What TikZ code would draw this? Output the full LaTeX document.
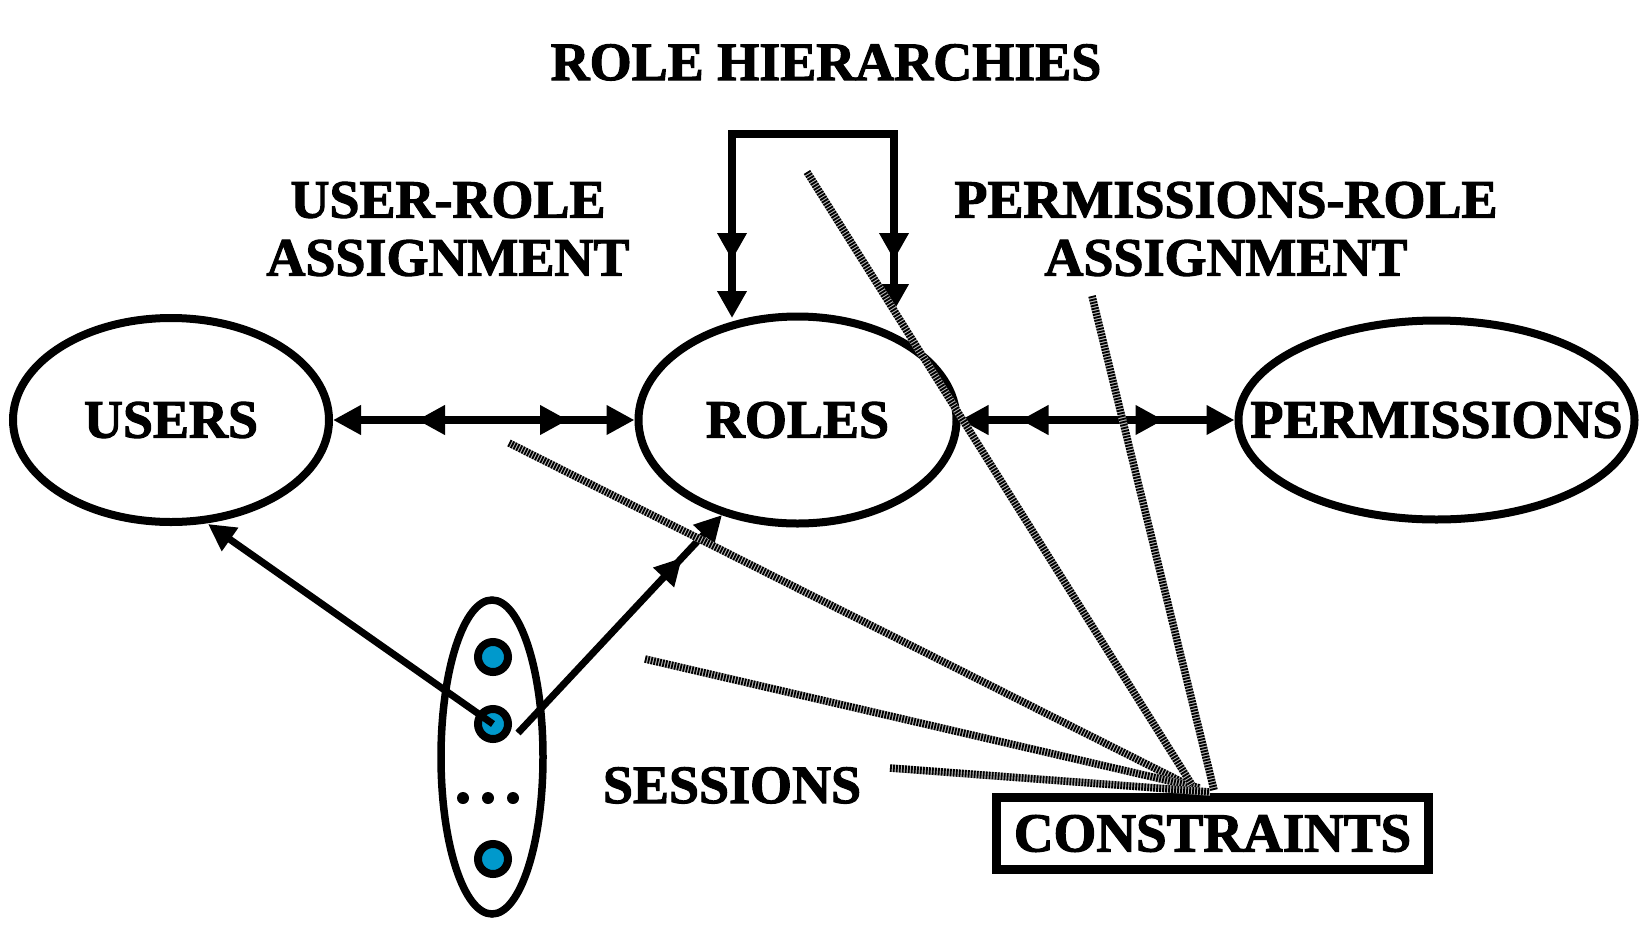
\documentclass[tikz,border=0pt]{standalone}
\usepackage{fontspec}
\setmainfont[BoldFeatures={FakeBold=2}]{Liberation Serif}
\usetikzlibrary{arrows.meta,shapes.geometric,decorations.markings}
\definecolor{sessblue}{RGB}{0,153,204}
\tikzset{
  bigtip/.tip={Triangle[length=28pt,width=28pt]},
  htip/.tip={Triangle[length=27pt,width=28pt]},
  stip/.tip={Triangle[length=27pt,width=27pt]},
  lbl/.style={font=\fontsize{54}{58}\selectfont\bfseries, inner sep=0pt, align=center},
  oval/.style={ellipse, draw, line width=8pt, inner sep=0pt},
  assoc/.style={line width=8pt, bigtip-bigtip, postaction={decorate}},
  sarrow/.style={line width=7pt, -stip},
  dot/.style={circle, draw, line width=8pt, fill=sessblue, minimum size=30pt, inner sep=0pt},
  edot/.style={circle, fill=black, minimum size=12pt, inner sep=0pt},
  stripe/.style={line width=7.5pt, draw=gray!55, postaction={draw=black, line width=7.5pt, dash pattern=on 1.8pt off 1.2pt}}
}
\begin{document}
\begin{tikzpicture}[x=1pt,y=-1pt]
\useasboundingbox (0,0) rectangle (1646,932);

% main ellipses
\node[oval, minimum width=316pt, minimum height=204pt, label={[lbl]center:USERS}] (users) at (171,420) {};
\node[oval, minimum width=318pt, minimum height=207pt, label={[lbl]center:ROLES}] (roles) at (797.5,420) {};
\node[oval, minimum width=396pt, minimum height=199pt, label={[lbl]center:PERMISSIONS}] (perms) at (1436.5,420) {};

% labels
\node[lbl, anchor=base] (title) at (826,80) {ROLE HIERARCHIES};
\node[lbl] (ura) at (448,229) {USER-ROLE\\ASSIGNMENT};
\node[lbl] (pra) at (1226,229) {PERMISSIONS-ROLE\\ASSIGNMENT};
\node[lbl, anchor=base] (sesslbl) at (732,803) {SESSIONS};

% constraints box
\node[draw, line width=9pt, minimum width=432pt, minimum height=72pt, lbl, font=\fontsize{55}{58}\selectfont\bfseries] (cons) at (1212.5,833.5) {CONSTRAINTS};

% sessions
\node[ellipse, draw, line width=7.5pt, minimum width=102pt, minimum height=314pt, inner sep=0pt] (sess) at (492,757) {};
\node[dot] (s1) at (493,657) {};
\node[dot] (s2) at (493,724) {};
\node[dot] (s3) at (493,859) {};
\node[edot] (e1) at (463,798) {};
\node[edot] (e2) at (488,798) {};
\node[edot] (e3) at (513,798) {};

% assignment arrows
\draw[assoc, decoration={markings,
   mark=at position 84pt with {\arrowreversed{bigtip}},
   mark=at position 235pt with {\arrow{bigtip}}}] (users) -- (roles);
\draw[assoc, decoration={markings,
   mark=at position 60pt with {\arrowreversed{bigtip}},
   mark=at position 203pt with {\arrow{bigtip}}}] (roles) -- (perms);

% role hierarchy
\coordinate (hL) at (732,318);
\coordinate (hTL) at (732,134);
\coordinate (hTR) at (894,134);
\coordinate (hR) at (894,311);
\draw[line width=8.5pt, htip-htip, postaction={decorate}, decoration={markings,
   mark=at position 58pt with {\arrowreversed{htip}},
   mark=at position 472pt with {\arrow{htip}}}] (hL) -- (hTL) -- (hTR) -- (hR);

% session arrows
\coordinate (uEnd) at (208,524);
\coordinate (rStart) at (518,733);
\coordinate (rEnd) at (722,515);
\draw[sarrow] (s2.center) -- (uEnd);
\draw[sarrow, postaction={decorate}, decoration={markings,
   mark=at position 240pt with {\arrow{stip}}}] (rStart) -- (rEnd);

% constraint lines
\coordinate (c1a) at (509,443);  \coordinate (c1b) at (1190,786);
\coordinate (c2a) at (645,659);  \coordinate (c2b) at (1200,788);
\coordinate (c3a) at (890,768);  \coordinate (c3b) at (1210,792);
\coordinate (c4a) at (807,172);  \coordinate (c4b) at (1192,785);
\coordinate (c5a) at (1092,296); \coordinate (c5b) at (1214,790);
\draw[stripe] (c1a) -- (c1b);
\draw[stripe] (c2a) -- (c2b);
\draw[stripe] (c3a) -- (c3b);
\draw[stripe] (c4a) -- (c4b);
\draw[stripe] (c5a) -- (c5b);
\end{tikzpicture}
\end{document}
